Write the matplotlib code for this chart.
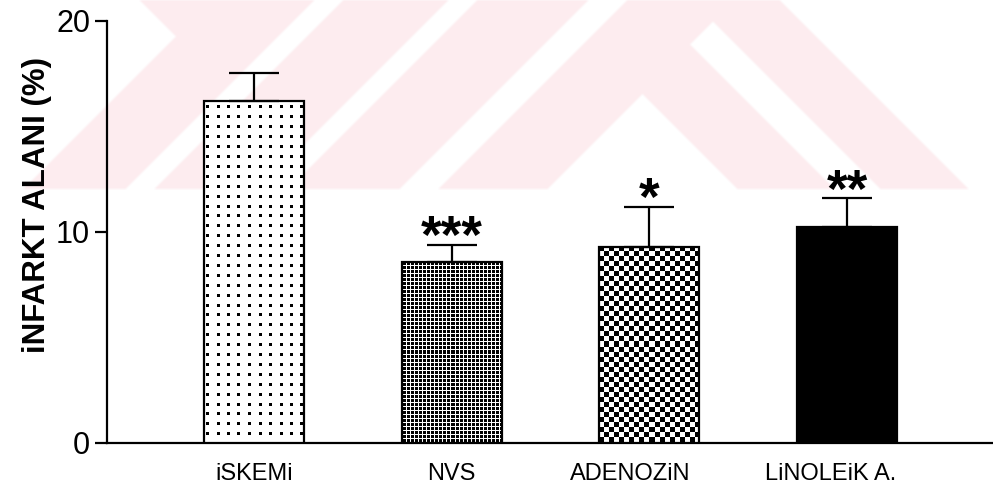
import numpy as np
import matplotlib
matplotlib.use("Agg")
import matplotlib.pyplot as plt
from matplotlib import font_manager

# ---- data ---------------------------------------------------------------
groups = ["iSKEMi", "NVS", "ADENOZiN", "LiNOLEiK A."]
means = [16.2, 8.6, 9.3, 10.25]
sems = [1.35, 0.8, 1.9, 1.35]
signif = ["", "***", "*", "**"]
y_ticks = [0, 10, 20]

# ---- fonts --------------------------------------------------------------
installed = {f.name for f in font_manager.fontManager.ttflist}
narrow = "Liberation Sans Narrow" if "Liberation Sans Narrow" in installed else "Liberation Sans"
narrow_size = 21 if narrow == "Liberation Sans Narrow" else 17
plt.rcParams["font.family"] = [narrow, "DejaVu Sans"]

W, H, DPI = 993, 495, 100
fig = plt.figure(figsize=(W / DPI, H / DPI), dpi=DPI)
fig.patch.set_facecolor("white")

# ---- faint pink watermark in the upper band --------------------------------
yy, xx = np.mgrid[0:H, 0:W].astype(float)
u = xx + yy
v = xx - yy
pink = (yy <= 188) & (v < 780)
pink &= ~((v < 140) & (u < 212))                  # notch at upper left
for a, b in [(313, 343), (447, 477), (587, 627)]:  # rising white stripes
    pink &= ~((u > a) & (u < b))
pink &= ~((u > 735) & (v < 549))                  # white wedge
pink &= ~((v > 645) & (v < 692) & (u > 733))      # falling white stripe
alpha = pink.astype(float)
k = np.ones(3) / 3
for axis in (0, 1):
    alpha = np.apply_along_axis(lambda r: np.convolve(r, k, mode="same"), axis, alpha)
rgba = np.zeros((H, W, 4))
rgba[..., :3] = np.array([253, 236, 239]) / 255
rgba[..., 3] = alpha
fig.figimage(rgba, xo=0, yo=0, origin="upper", zorder=-1)

# ---- axes ----------------------------------------------------------------
ax = fig.add_axes([107 / W, (H - 443) / H, (W - 107) / W, (443 - 21) / H])
ax.patch.set_alpha(0)
x = np.arange(len(groups))
bar_w = 0.506
ax.set_xlim(-0.744, 3.738)
ax.set_ylim(0, 20)

faces = ["white", "white", "white", "black"]
fill = ax.bar(x, means, bar_w, color=faces, edgecolor="none", zorder=2)
ax.bar(x, means, bar_w, fill=False, edgecolor="black", linewidth=1.6, zorder=4)


def pattern(kind, h, w):
    ry = np.arange(h)[:, None]
    rx = np.arange(w)[None, :]
    img = np.ones((h, w))
    if kind == "sparse":
        m = ((rx - 2) % 10.3 < 3) & ((ry - 4) % 9.9 < 3)
    elif kind == "fine":
        m = ((rx - 1) % 4 < 3) & ((ry - 1) % 4 < 3)
    elif kind == "checker":
        m = ((rx // 5 + ry // 5) % 2) == 0
    else:
        m = np.zeros((h, w), bool)
    img[m] = 0
    return img


kinds = ["sparse", "fine", "checker", None]
for patch, kind in zip(fill.patches, kinds):
    if kind is None:
        continue
    x0, y0 = patch.get_x(), patch.get_y()
    x1, y1 = x0 + patch.get_width(), y0 + patch.get_height()
    (p0x, p0y), (p1x, p1y) = ax.transData.transform([(x0, y0), (x1, y1)])
    w_px, h_px = int(round(p1x - p0x)), int(round(p1y - p0y))
    im = ax.imshow(pattern(kind, h_px, w_px), cmap="gray", vmin=0, vmax=1,
                   extent=(x0, x1, y0, y1), origin="upper", interpolation="nearest",
                   aspect="auto", zorder=3)
    im.set_clip_path(patch)

ax.set_xlim(-0.744, 3.738)
ax.set_ylim(0, 20)

ax.errorbar(x, means, yerr=[np.zeros(len(sems)), sems], fmt="none", ecolor="black",
            elinewidth=1.6, capsize=18, capthick=1.6, zorder=5)

# significance stars above the error bars
for xi, m, s, lab in zip(x, means, sems, signif):
    if lab:
        ax.annotate(lab, xy=(xi, m + s), xytext=(0, -6), textcoords="offset points",
                    ha="center", va="baseline", fontsize=38, fontweight="bold",
                    family=["Liberation Sans", "DejaVu Sans"], zorder=6)

for side in ("top", "right"):
    ax.spines[side].set_visible(False)
for side in ("left", "bottom"):
    ax.spines[side].set_linewidth(1.6)

ax.set_yticks(y_ticks)
ax.set_yticklabels([str(t) for t in y_ticks])
ax.tick_params(axis="y", length=8.6, width=1.6, pad=3.6, labelsize=22)
ax.set_xticks([])

# category labels under the bars
label_dx = [0, 0, -14, -12]
for xi, lab, dx in zip(x, groups, label_dx):
    ax.annotate(lab, xy=(xi, 0), xycoords=("data", "axes fraction"),
                xytext=(dx, -22), textcoords="offset points",
                ha="center", va="center", fontsize=narrow_size)

ax.set_ylabel("iNFARKT ALANI (%)", fontsize=22.5, fontweight="bold",
              family=["Liberation Sans", "DejaVu Sans"])
ax.yaxis.set_label_coords(-70 / 886, 0.564)
ax.yaxis.label.set_va("center")

fig.savefig("out.png", dpi=DPI)
